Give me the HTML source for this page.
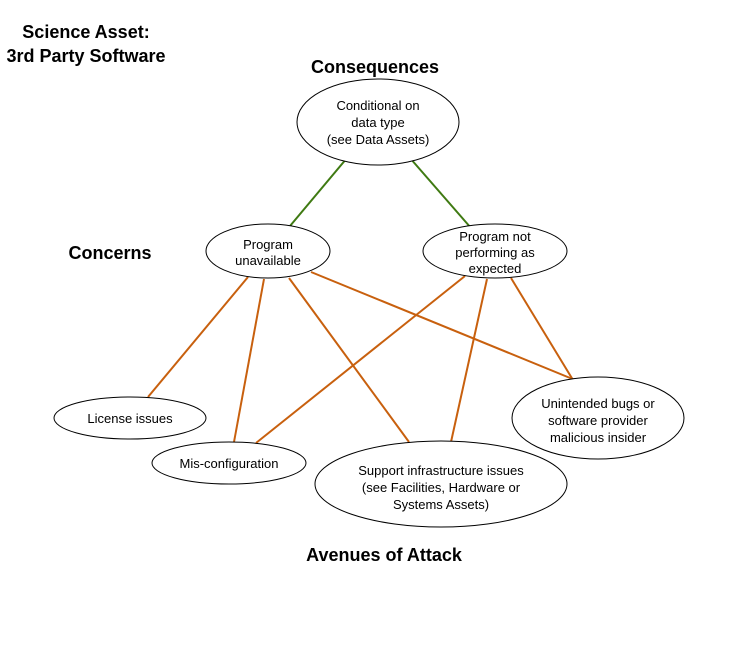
<!DOCTYPE html>
<html><head><style>body{margin:0;background:#fff}</style></head><body>
<svg width="756" height="642" xmlns="http://www.w3.org/2000/svg" font-family="Liberation Sans, sans-serif">
<rect width="756" height="642" fill="#fff"/>
<g font-weight="bold" font-size="18" fill="#000">
<text x="86" y="38" text-anchor="middle">Science Asset:</text>
<text x="86" y="62" text-anchor="middle">3rd Party Software</text>
<text x="375" y="73" text-anchor="middle">Consequences</text>
<text x="110" y="259" text-anchor="middle">Concerns</text>
<text x="384" y="561" text-anchor="middle">Avenues of Attack</text>
</g>
<g stroke="#3f7a12" stroke-width="2">
<line x1="347" y1="158" x2="290" y2="226"/>
<line x1="410" y1="158" x2="471" y2="228"/>
</g>
<g stroke="#c8600e" stroke-width="2">
<line x1="248" y1="277" x2="148" y2="397"/>
<line x1="264" y1="279" x2="234" y2="442"/>
<line x1="289" y1="278" x2="409" y2="442"/>
<line x1="311" y1="272" x2="575" y2="380"/>
<line x1="465" y1="276" x2="256" y2="443"/>
<line x1="487" y1="279" x2="451" y2="442"/>
<line x1="511" y1="278" x2="573" y2="380"/>
</g>
<g fill="#fff" stroke="#000" stroke-width="1">
<ellipse cx="378" cy="122" rx="81" ry="43"/>
<ellipse cx="268" cy="251" rx="62" ry="27"/>
<ellipse cx="495" cy="251" rx="72" ry="27"/>
<ellipse cx="130" cy="418" rx="76" ry="21"/>
<ellipse cx="229" cy="463" rx="77" ry="21"/>
<ellipse cx="441" cy="484" rx="126" ry="43"/>
<ellipse cx="598" cy="418" rx="86" ry="41"/>
</g>
<g font-size="13" fill="#000" text-anchor="middle">
<text x="378" y="110">Conditional on</text>
<text x="378" y="127">data type</text>
<text x="378" y="144">(see Data Assets)</text>
<text x="268" y="249">Program</text>
<text x="268" y="265">unavailable</text>
<text x="495" y="241">Program not</text>
<text x="495" y="257">performing as</text>
<text x="495" y="273">expected</text>
<text x="130" y="423">License issues</text>
<text x="229" y="468">Mis-configuration</text>
<text x="441" y="475">Support infrastructure issues</text>
<text x="441" y="492">(see Facilities, Hardware or</text>
<text x="441" y="509">Systems Assets)</text>
<text x="598" y="408">Unintended bugs or</text>
<text x="598" y="425">software provider</text>
<text x="598" y="442">malicious insider</text>
</g>
</svg>
</body></html>
